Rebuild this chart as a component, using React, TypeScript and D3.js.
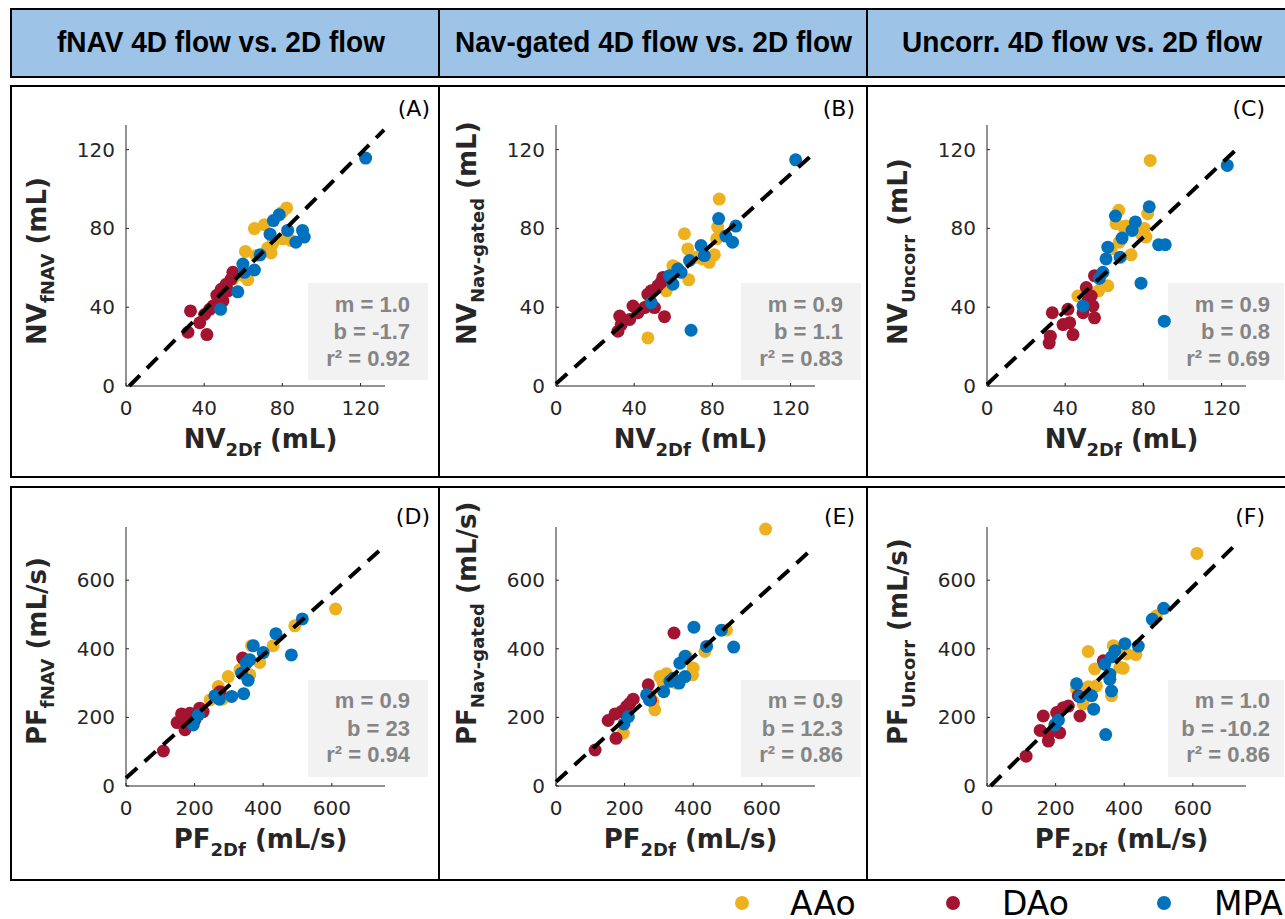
import React from 'react';
import * as d3 from 'd3';

type Pt = [number, number];

// ---------- Data ----------
const A_AAo: Pt[] = [[82.2,90.4],[79.8,88.1],[70.8,81.9],[65.7,79.9],[80.1,74.7],[84.4,73.9],[75,72.2],[61.1,68.3],[66.6,66.2],[72.5,70],[74.2,67.6],[62.3,53.9],[60.1,56],[47,44],[54.7,54.3]];
const A_DAo: Pt[] = [[54.7,57.7],[53.8,54.3],[51.3,51.7],[48.7,49.1],[46.5,46.1],[49.6,43.2],[42.8,38.9],[33,38.1],[40.2,36.3],[37.7,32.1],[31.7,27.3],[41.4,26.1],[44.5,40.6],[52.1,48.3]];
const A_MPA: Pt[] = [[122.6,115.7],[78.4,87],[75.4,84],[73.7,77.1],[82.7,79],[90.3,79],[91.2,75.6],[86.9,73],[68.6,66.6],[59.8,61.9],[65.7,58.9],[60.6,57.7],[57.2,47.8],[48.4,38.9]];

const B_AAo: Pt[] = [[83.5,94.9],[82.7,80.7],[82.2,74.7],[65.7,77.3],[67.4,69.6],[75,64.5],[78.4,62.8],[81,66.6],[71.6,65.4],[61.5,60.2],[67.9,53.9],[56.4,48.3],[47.9,42.3],[47,24.4],[59.8,61.1]];
const B_DAo: Pt[] = [[54.7,55.1],[52.1,50.9],[48.7,48.3],[47,46.6],[50.4,39.8],[39.4,40.6],[45.3,39.8],[41.9,37.2],[32.6,35.5],[37.7,33.8],[55.5,35.2],[33.4,31.2],[31.7,27.8],[53.8,52.6]];
const B_MPA: Pt[] = [[122.6,114.8],[83.2,85],[92,81.2],[86.9,76.1],[90.3,73],[74.2,71.3],[75.9,66.2],[68.3,63.7],[62.3,59.4],[58.1,56],[59.8,51.7],[48.7,42.3],[69.1,28.3],[64,57.7]];

const C_AAo: Pt[] = [[83.5,114.5],[67.4,89.2],[66,82.4],[71.1,81.2],[82.2,87.5],[80.5,79.9],[81.3,75.6],[67.7,73],[73.7,66.6],[63.5,69.6],[61.8,50.9],[57.1,48.3],[46.5,45.7],[69.8,80.7],[78.8,77.3]];
const C_DAo: Pt[] = [[55,56],[50.8,50],[53.3,45.7],[54.2,40.6],[55,34.6],[49.1,37.2],[44,26.1],[41.4,38.9],[38.9,31.2],[42.3,32.1],[33.4,37.2],[32.4,25.3],[31.8,21.8],[51.6,43.2]];
const C_MPA: Pt[] = [[122.9,112],[83,91],[65.7,86.3],[75.9,83.3],[74.2,79],[69.1,75.1],[61.8,70.5],[87.8,71.7],[91.2,71.7],[60.9,64.5],[68.1,65.4],[59.3,57.7],[57.5,54.6],[78.8,52.2],[49.1,40.6],[90.7,32.9]];

const D_AAo: Pt[] = [[611,516],[492,467],[429,409],[366,409],[390,360],[361,324],[298,319],[269,290],[281,253],[274,271],[332,339],[245,251]];
const D_DAo: Pt[] = [[340,373],[274,275],[215,227],[186,212],[162,210],[149,185],[172,164],[109,102],[201,193],[225,217],[167,198],[191,183]];
const D_MPA: Pt[] = [[514,487],[437,444],[371,409],[400,389],[482,382],[351,358],[337,329],[356,308],[343,269],[259,263],[308,261],[272,253],[211,207],[196,178],[361,368]];

const E_AAo: Pt[] = [[611,749],[497,455],[434,392],[380,378],[400,344],[398,324],[303,319],[322,327],[312,300],[283,246],[288,222],[196,154],[351,300],[274,266]];
const E_DAo: Pt[] = [[344,446],[269,295],[225,253],[215,241],[191,217],[172,210],[152,191],[175,139],[114,105],[206,232],[276,251]];
const E_MPA: Pt[] = [[482,454],[402,463],[518,405],[439,407],[376,378],[361,358],[342,314],[359,300],[376,319],[314,275],[264,266],[272,251],[211,202],[198,181],[332,305]];

const F_AAo: Pt[] = [[612,678],[494,496],[295,392],[368,409],[407,385],[434,383],[387,346],[397,343],[314,341],[319,292],[295,289],[363,263],[280,239],[261,282],[198,180]];
const F_DAo: Pt[] = [[339,365],[266,263],[271,204],[222,228],[203,214],[164,204],[155,162],[179,150],[179,131],[212,155],[114,87],[237,233]];
const F_MPA: Pt[] = [[515,518],[482,486],[402,415],[441,408],[373,394],[363,376],[343,355],[358,326],[358,311],[363,277],[261,298],[271,260],[305,263],[311,224],[198,178],[208,192],[346,150]];

const headerTitles = ['fNAV 4D flow vs. 2D flow', 'Nav-gated 4D flow vs. 2D flow', 'Uncorr. 4D flow vs. 2D flow'];
const panelLetters = ['A', 'B', 'C', 'D', 'E', 'F'];
const methodSubs = ['fNAV', 'Nav-gated', 'Uncorr'];
const slopeText = ['1.0', '0.9', '0.9', '0.9', '0.9', '1.0'];
const interceptText = ['-1.7', '1.1', '0.8', '23', '12.3', '-10.2'];
const r2Text = ['0.92', '0.83', '0.69', '0.94', '0.86', '0.86'];
const lineSlope = [0.998, 0.887, 0.935, 0.898, 0.909, 0.985];
const lineIntercept = [-1.7, 1.1, 0.8, 23, 12.3, -10.2];
const lineEndX = [132, 130.7, 127.3, 748, 739, 722];
const rowTicks = [[0, 40, 80, 120], [0, 200, 400, 600]];
const rowMax = [132.5, 755];
const rowVar = ['NV', 'PF'];
const rowUnit = ['(mL)', '(mL/s)'];
const legendNames = ['AAo', 'DAo', 'MPA'];

const panelData: Pt[][][] = [
  [A_AAo, A_DAo, A_MPA], [B_AAo, B_DAo, B_MPA], [C_AAo, C_DAo, C_MPA],
  [D_AAo, D_DAo, D_MPA], [E_AAo, E_DAo, E_MPA], [F_AAo, F_DAo, F_MPA],
];

const COLORS = ['#EDB120', '#A2142F', '#0072BD'];
const AXIS = '#262626';
const colOffset = [0, 430, 861];
const letterRight = [430, 855, 1265];
const statsRight = [410, 843, 1270];
const headerTextX = [57, 455, 902];
const headerTextLen = [328, 397, 360];

function Panel({ idx }: { idx: number }) {
  const row = Math.floor(idx / 3);
  const col = idx % 3;
  const ox = colOffset[col];
  const x0 = 126 + ox;
  const x1 = 385 + ox;
  const yb = row === 0 ? 386 : 786;
  const yt = row === 0 ? 125 : 527;
  const max = rowMax[row];
  const xs = d3.scaleLinear().domain([0, max]).range([x0, x1]);
  const ys = d3.scaleLinear().domain([0, max]).range([yb, yt]);
  const m = lineSlope[idx];
  const b = lineIntercept[idx];
  const lx0 = Math.max(0, -b / m);
  const lx1 = lineEndX[idx];
  const line = d3.line<number>().x((v) => xs(v)).y((v) => ys(m * v + b));
  const boxTop = row === 0 ? 283 : 680;
  const baseL = row === 0 ? [312, 339, 366] : [708, 736, 762];
  const labelY = row === 0 ? 345 : 745;
  const labelX = 46 + ox;
  const sx = statsRight[col];
  return (
    <g>
      {/* stats box */}
      <rect x={sx - 102} y={boxTop} width={col === 2 ? 116 : 120} height={97} fill="#f2f2f2" />
      {/* axes */}
      <line x1={x0} y1={yb} x2={x1} y2={yb} stroke={AXIS} strokeWidth={1} />
      <line x1={x0} y1={yb} x2={x0} y2={yt} stroke={AXIS} strokeWidth={1} />
      {rowTicks[row].map((t) => (
        <g key={'x' + t}>
          <line x1={xs(t)} x2={xs(t)} y1={yb} y2={yb - 3} stroke={AXIS} />
          <text x={xs(t)} y={yb + 29} textAnchor="middle" fontSize={20} fill={AXIS}>{t}</text>
        </g>
      ))}
      {rowTicks[row].map((t) => (
        <g key={'y' + t}>
          <line x1={x0} x2={x0 + 3} y1={ys(t)} y2={ys(t)} stroke={AXIS} />
          <text x={x0 - 11} y={ys(t) + 7} textAnchor="end" fontSize={20} fill={AXIS}>{t}</text>
        </g>
      ))}
      {/* points */}
      {panelData[idx].map((series, si) =>
        series.map((p, pi) => (
          <circle key={si + '-' + pi} cx={xs(p[0])} cy={ys(p[1])} r={6.5} fill={COLORS[si]} />
        ))
      )}
      {/* regression line */}
      <path d={line([lx0, lx1]) || ''} fill="none" stroke="#000" strokeWidth={4} strokeDasharray="15 10" />
      {/* stats text */}
      <g fontFamily="Liberation Sans, Arial, sans-serif" fontWeight="bold" fontSize={22} fill="#858585" textAnchor="end">
        <text x={sx} y={baseL[0]}>m = {slopeText[idx]}</text>
        <text x={sx} y={baseL[1]}>b = {interceptText[idx]}</text>
        <text x={sx} y={baseL[2]}>r² = {r2Text[idx]}</text>
      </g>
      {/* panel letter */}
      <text x={letterRight[col]} y={row === 0 ? 116 : 524} textAnchor="end" fontSize={22} fill="#000">({panelLetters[idx]})</text>
      {/* x label */}
      <text x={(x0 + x1) / 2 + 5} y={row === 0 ? 448 : 848} textAnchor="middle" fontWeight="bold" fontSize={26} fill={AXIS}>
        <tspan>{rowVar[row]}</tspan>
        <tspan fontSize={18} dy={8}>2Df</tspan>
        <tspan dy={-8}>{' ' + rowUnit[row]}</tspan>
      </text>
      {/* y label */}
      <text transform={`translate(${labelX},${labelY}) rotate(-90)`} textAnchor="start" fontWeight="bold" fontSize={26} fill={AXIS}>
        <tspan>{rowVar[row]}</tspan>
        <tspan fontSize={18} dy={8}>{methodSubs[col]}</tspan>
        <tspan dy={-8}>{' ' + rowUnit[row]}</tspan>
      </text>
    </g>
  );
}

export default function App() {
  return (
    <svg width={1285} height={919} style={{ position: 'absolute', left: 0, top: 0, background: '#fff' }} fontFamily="DejaVu Sans, sans-serif">
      {/* header */}
      <rect x={11} y={9} width={1290} height={68} fill="#9DC3E6" stroke="#000" strokeWidth={2} />
      <line x1={439} x2={439} y1={9} y2={77} stroke="#000" strokeWidth={2} />
      <line x1={867} x2={867} y1={9} y2={77} stroke="#000" strokeWidth={2} />
      {headerTitles.map((t, i) => (
        <text key={t} x={headerTextX[i]} y={52} fontFamily="Liberation Sans, Arial, sans-serif" fontWeight="bold" fontSize={30} textLength={headerTextLen[i]} lengthAdjust="spacingAndGlyphs" fill="#000">{t}</text>
      ))}
      {/* row boxes */}
      <rect x={11} y={86} width={1290} height={391} fill="none" stroke="#000" strokeWidth={2} />
      <rect x={11} y={487} width={1290} height={393} fill="none" stroke="#000" strokeWidth={2} />
      {[439, 867].map((x) => (
        <g key={x}>
          <line x1={x} x2={x} y1={86} y2={477} stroke="#000" strokeWidth={2} />
          <line x1={x} x2={x} y1={487} y2={880} stroke="#000" strokeWidth={2} />
        </g>
      ))}
      {[0, 1, 2, 3, 4, 5].map((i) => <Panel key={i} idx={i} />)}
      {/* legend */}
      {legendNames.map((n, i) => (
        <g key={n}>
          <circle cx={742 + i * 211} cy={903} r={7} fill={COLORS[i]} />
          <text x={790 + i * 212} y={915} fontSize={33} fill="#000">{n}</text>
        </g>
      ))}
    </svg>
  );
}
